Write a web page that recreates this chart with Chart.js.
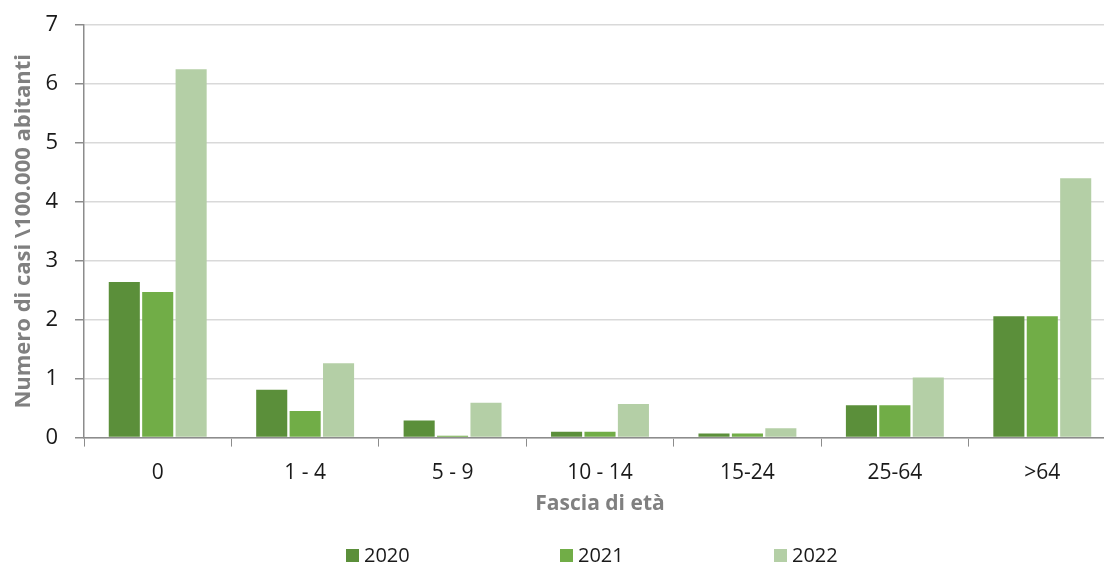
<!DOCTYPE html>
<html>
<head>
<meta charset="utf-8">
<script src="https://cdn.jsdelivr.net/npm/chart.js@4"></script>
<style>
  html, body { margin: 0; padding: 0; background: #fff; overflow: hidden; }
  #wrap { position: relative; width: 1104px; height: 566px; overflow: hidden; }
  #box { position: absolute; left: 0; top: 0; width: 1116px; height: 566px; }
  #legend { position: absolute; top: 541px; left: 0; width: 1104px; height: 26px;
            font-family: "Open Sans", "Noto Sans", sans-serif; font-size: 20px; color: #1a1a1a; }
  #legend span.item { position: absolute; top: 0; white-space: nowrap; }
  #legend span.sw { display: inline-block; width: 13px; height: 13px; margin-right: 5px; vertical-align: 0px; }
</style>
</head>
<body>
<div id="wrap">
  <div id="box"><canvas id="myChart"></canvas></div>
  <div id="legend"></div>
</div>
<script>
var categories = ['0', '1 - 4', '5 - 9', '10 - 14', '15-24', '25-64', '>64'];
var years = ['2020', '2021', '2022'];
var values2020 = [2.64, 0.81, 0.29, 0.10, 0.07, 0.55, 2.06];
var values2021 = [2.47, 0.45, 0.03, 0.10, 0.07, 0.55, 2.06];
var values2022 = [6.25, 1.26, 0.59, 0.57, 0.16, 1.02, 4.40];
var colors = ['#5B8F3A', '#71AD47', '#B4CFA6'];

document.addEventListener("DOMContentLoaded", function () {
    var ctx = document.getElementById("myChart").getContext("2d");
    var font = '"Open Sans", "Noto Sans", sans-serif';
    var series = [values2020, values2021, values2022];

    var myChart = new Chart(ctx, {
        type: 'bar',
        data: {
            labels: categories,
            datasets: years.map(function (y, i) {
                return {
                    label: y,
                    data: series[i],
                    backgroundColor: colors[i],
                    borderWidth: 0,
                    categoryPercentage: 0.68,
                    barPercentage: 0.93
                };
            })
        },
        options: {
            responsive: true,
            maintainAspectRatio: false,
            animation: false,
            layout: { padding: { left: 11, top: 25, right: 0, bottom: 49 } },
            plugins: {
                legend: { display: false },
                tooltip: { enabled: false }
            },
            scales: {
                x: {
                    grid: { drawOnChartArea: false, tickLength: 9, color: '#8c8c8c', tickColor: '#8c8c8c' },
                    border: { color: '#8c8c8c', width: 1.5 },
                    ticks: { color: '#1a1a1a', font: { family: font, size: 21 }, padding: 14, maxRotation: 0 },
                    title: { display: true, text: 'Fascia di età', color: '#808080',
                             font: { family: font, size: 21, weight: 'bold' }, padding: { top: -8, bottom: 0 } }
                },
                y: {
                    min: 0,
                    max: 7,
                    afterFit: function (scale) {
                        scale.width = 73;
                        scale.paddingTop = 0;
                    },
                    ticks: { stepSize: 1, color: '#1a1a1a', font: { family: font, size: 22 }, padding: 17 },
                    grid: { color: '#d9d9d9', lineWidth: 1.5, tickLength: 9, tickColor: '#8c8c8c' },
                    border: { color: '#8c8c8c', width: 1.5 },
                    title: { display: true, text: 'Numero di casi \\100.000 abitanti', color: '#808080',
                             font: { family: font, size: 22, weight: 'bold' }, padding: { top: 0, bottom: 0 } }
                }
            }
        }
    });

    var legend = document.getElementById('legend');
    var lefts = [346, 560, 774];
    years.forEach(function (y, i) {
        var item = document.createElement('span');
        item.className = 'item';
        item.style.left = lefts[i] + 'px';
        var sw = document.createElement('span');
        sw.className = 'sw';
        sw.style.background = colors[i];
        item.appendChild(sw);
        item.appendChild(document.createTextNode(y));
        legend.appendChild(item);
    });
});
</script>
</body>
</html>
